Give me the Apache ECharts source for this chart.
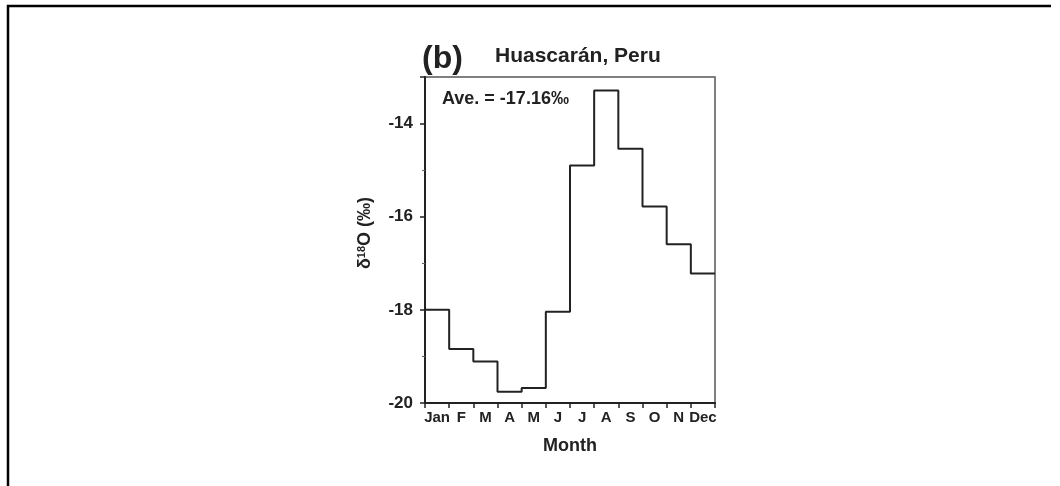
<!DOCTYPE html>
<html lang="en">
<head>
  <meta charset="UTF-8">
  <title>Huascaran d18O</title>
  <style>
    html, body { margin: 0; padding: 0; background: #fff; }
    #main { width: 1060px; height: 486px; }
  </style>
</head>
<body>
  <div id="main"></div>
  <script src="https://cdn.jsdelivr.net/npm/echarts@6/dist/echarts.min.js"></script>
  <script>
    var months = ['Jan', 'F', 'M', 'A', 'M', 'J', 'J', 'A', 'S', 'O', 'N', 'Dec'];
    var d18O = [-18.0, -18.84, -19.11, -19.76, -19.68, -18.04, -14.9, -13.29, -14.54, -15.78, -16.59, -17.22];
    var yTicks = [-20, -18, -16, -14];

    var font = '"Liberation Sans", Arial, sans-serif';
    var ink = '#222';

    // step line: each month is a flat segment from i to i+1
    var stepData = d18O.map(function (v, i) { return [i, v]; });
    stepData.push([months.length, d18O[d18O.length - 1]]);

    var myChart = echarts.init(document.getElementById('main'));

    var option = {
      animation: false,
      grid: {
        left: 425, right: 345, top: 77, bottom: 83,
        show: true, borderColor: '#555', borderWidth: 1.5
      },
      xAxis: [{
        type: 'category',
        data: months,
        boundaryGap: true,
        axisLine: { lineStyle: { color: ink, width: 2 } },
        axisTick: { show: true, length: 5, interval: 0, lineStyle: { color: ink, width: 1.5 } },
        axisLabel: { interval: 0, margin: 7, color: ink, fontSize: 15, fontWeight: 'bold', fontFamily: font },
        name: 'Month',
        nameLocation: 'middle',
        nameGap: 34,
        nameTextStyle: { color: ink, fontSize: 18, fontWeight: 'bold', fontFamily: font }
      }, {
        type: 'value',
        min: 0,
        max: months.length,
        show: false
      }],
      yAxis: {
        type: 'value',
        min: yTicks[0],
        max: -13,
        interval: 2,
        splitLine: { show: false },
        axisLine: { show: true, lineStyle: { color: ink, width: 2 } },
        axisTick: { show: true, length: 5, lineStyle: { color: ink, width: 1.5 } },
        minorTick: { show: true, splitNumber: 2, length: 3, lineStyle: { color: '#666' } },
        axisLabel: {
          showMaxLabel: false,
          margin: 12,
          color: ink, fontSize: 17, fontWeight: 'bold', fontFamily: font
        },
        name: '{a|δ}{s|18}{a|O (‰)}',
        nameLocation: 'middle',
        nameRotate: 90,
        nameGap: 50,
        nameTextStyle: {
          padding: [0, 0, 0, 14],
          rich: {
            a: { color: ink, fontSize: 18, fontWeight: 'bold', fontFamily: font },
            s: { color: ink, fontSize: 11, fontWeight: 'bold', fontFamily: font, padding: [0, 0, 8, 0] }
          }
        }
      },
      series: [{
        type: 'line',
        xAxisIndex: 1,
        step: 'end',
        symbol: 'none',
        data: stepData,
        lineStyle: { color: ink, width: 2 }
      }],
      graphic: [{
        type: 'polyline',
        shape: { points: [[8, 486], [8, 6], [1051, 6]] },
        style: { stroke: '#000', lineWidth: 2.5, fill: null }
      }, {
        type: 'text', left: 422, top: 43,
        style: { text: '(b)', fill: ink, font: 'bold 32px ' + font }
      }, {
        type: 'text', left: 495, top: 46,
        style: { text: 'Huascarán, Peru', fill: ink, font: 'bold 21px ' + font }
      }, {
        type: 'text', left: 442, top: 90,
        style: { text: 'Ave. = -17.16‰', fill: ink, font: 'bold 18px ' + font }
      }]
    };

    option && myChart.setOption(option);
  </script>
</body>
</html>
